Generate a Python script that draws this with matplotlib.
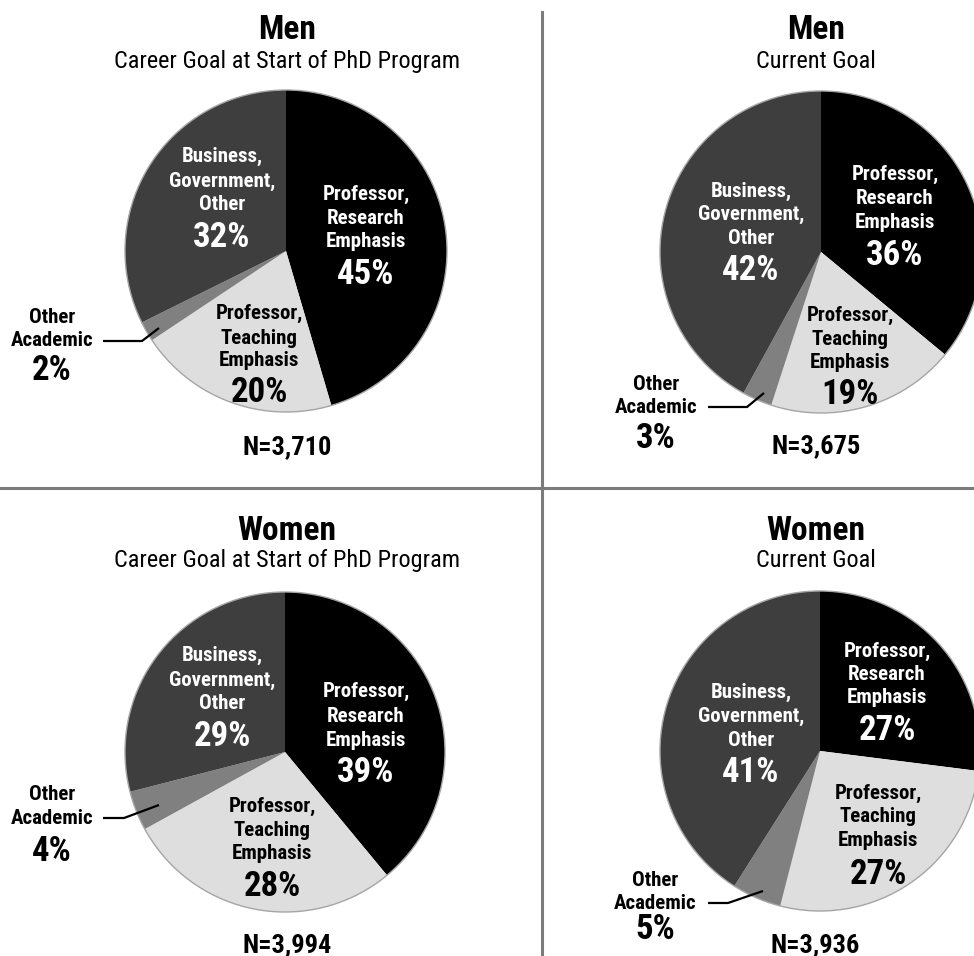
import matplotlib
matplotlib.use("Agg")
import matplotlib.pyplot as plt
from matplotlib import font_manager as fm
from matplotlib.patches import Circle

# ---------------- data ----------------
categories = ["Professor,\nResearch\nEmphasis",
              "Professor,\nTeaching\nEmphasis",
              "Other\nAcademic",
              "Business,\nGovernment,\nOther"]
men_start = [45, 20, 2, 32]
men_current = [36, 19, 3, 42]
women_start = [39, 28, 4, 29]
women_current = [27, 27, 5, 41]
panel_titles = ["Men", "Men", "Women", "Women"]
panel_subtitles = ["Career Goal at Start of PhD Program", "Current Goal",
                   "Career Goal at Start of PhD Program", "Current Goal"]
n_labels = ["N=3,710", "N=3,675", "N=3,994", "N=3,936"]

# ---------------- style ----------------
slice_colors = ["#000000", "#dedede", "#808080", "#3e3e3e"]
text_colors = ["white", "black", "black", "white"]
outline_color = "#a5a5a5"
divider_color = "#7c7c7c"

names = {f.name for f in fm.fontManager.ttflist}
FONT = "Liberation Sans"
for cand in ["Roboto Condensed", "Liberation Sans Narrow", "Arial Narrow", "Open Sans Condensed"]:
    if cand in names:
        FONT = cand
        break
plt.rcParams["font.family"] = [FONT, "DejaVu Sans"]

W, H = 974, 956
DPI = 100
CAP = 0.70  # cap height ratio


def Y(y):
    return H - y


fig = plt.figure(figsize=(W / DPI, H / DPI), dpi=DPI)
ax = fig.add_axes([0, 0, 1, 1])


def cap_text(x, y, s, size, weight="bold", color="black"):
    # y is the cap-height center in pixels from top
    px = size * DPI / 72.0
    ax.text(x, Y(y + CAP * px / 2.0), s, fontsize=size, fontweight=weight,
            color=color, ha="center", va="baseline", family=[FONT, "DejaVu Sans"])


# ---------------- layout (pixel positions) ----------------
panels = [
    dict(values=men_start, center=(286, 251), r=161, tx=287, ty=27, sy=59,
         n=(287, 445),
         labels=[(366, [193, 217, 240], 272), (259, [312, 337, 359], 390),
                 (52, [316, 339], 368), (222, [155, 180, 203], 235)],
         leader=[(103, 341), (142, 341), (159, 328)]),
    dict(values=men_current, center=(821, 252), r=161, tx=816, ty=27, sy=59,
         n=(816, 444),
         labels=[(895, [173, 197, 221], 253), (850, [314, 338, 361], 392),
                 (656, [383, 406], 436), (751, [190, 213, 237], 268)],
         leader=[(708, 407), (747, 407), (764, 393)]),
    dict(values=women_start, center=(285, 752), r=160, tx=287, ty=528, sy=558,
         n=(287, 943),
         labels=[(366, [690, 715, 739], 770), (272, [805, 829, 852], 884),
                 (52, [793, 817], 849), (222, [654, 679, 702], 734)],
         leader=[(103, 818), (124, 818), (159, 805)]),
    dict(values=women_current, center=(820, 751), r=160, tx=816, ty=528, sy=558,
         n=(815, 943),
         labels=[(887, [650, 673, 696], 728), (878, [792, 815, 839], 872),
                 (655, [879, 902], 927), (751, [691, 715, 739], 770)],
         leader=[(708, 903), (728, 903), (763, 891)]),
]

for i, p in enumerate(panels):
    cx, cy = p["center"]
    ax.pie(p["values"], colors=slice_colors, startangle=90, counterclock=False,
           center=(cx, Y(cy)), radius=p["r"],
           wedgeprops=dict(linewidth=0, antialiased=True))
    ax.add_patch(Circle((cx, Y(cy)), p["r"], fill=False, edgecolor=outline_color,
                        linewidth=1.0, zorder=3))
    # titles
    cap_text(p["tx"], p["ty"], panel_titles[i], 24, "bold")
    cap_text(p["tx"], p["sy"], panel_subtitles[i], 17.5, "normal")
    cap_text(p["n"][0], p["n"][1], n_labels[i], 19, "bold")
    # slice labels
    for k, (lx, lys, py) in enumerate(p["labels"]):
        lines = categories[k].split("\n")
        for line, ly in zip(lines, lys):
            cap_text(lx, ly, line, 15, "bold", text_colors[k])
        cap_text(lx, py, f"{p['values'][k]}%", 25, "bold", text_colors[k])
    lx_pts = [pt[0] for pt in p["leader"]]
    ly_pts = [Y(pt[1]) for pt in p["leader"]]
    ax.plot(lx_pts, ly_pts, color="black", linewidth=1.6, zorder=4,
            solid_capstyle="butt", solid_joinstyle="miter")

# dividers
ax.plot([541.5, 541.5], [Y(12), Y(H)], color=divider_color, linewidth=2.2, zorder=5)
ax.plot([0, W], [Y(488), Y(488)], color=divider_color, linewidth=2.2, zorder=5)

ax.set_xlim(0, W)
ax.set_ylim(0, H)
ax.set_aspect("equal", adjustable="box")
ax.axis("off")

fig.savefig("out.png", dpi=DPI, facecolor="white")
